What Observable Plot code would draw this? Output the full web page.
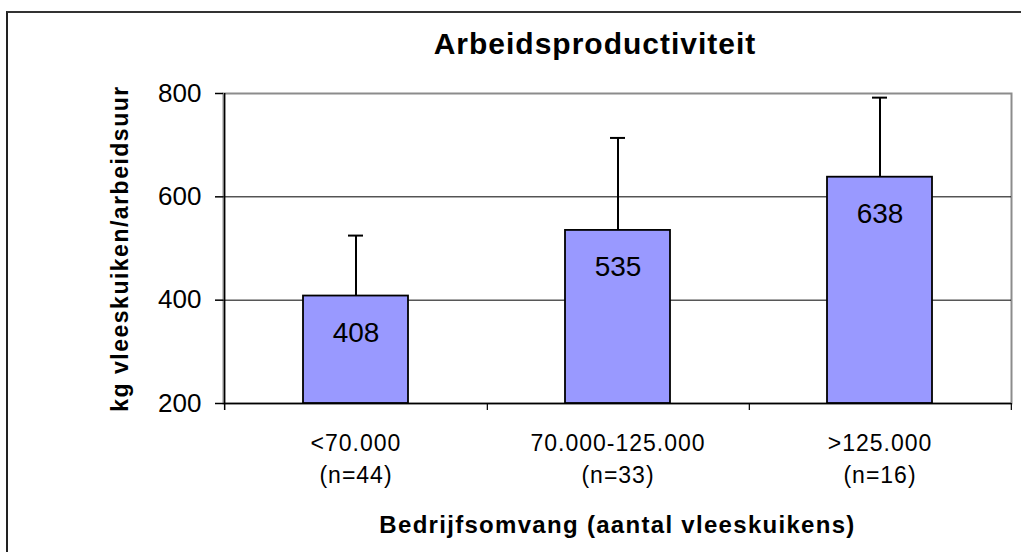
<!DOCTYPE html>
<html>
<head>
<meta charset="utf-8">
<script src="https://cdn.jsdelivr.net/npm/d3@7"></script>
<script src="https://cdn.jsdelivr.net/npm/@observablehq/plot@0.6"></script>
<style>
  html, body { margin: 0; padding: 0; background: #fff; }
  #wrap { position: relative; width: 1021px; height: 552px; overflow: hidden; font-family: "Liberation Sans", Arial, sans-serif; }
  #border { position: absolute; left: 6px; top: 11px; width: 1100px; height: 600px; border-left: 2px solid #222; border-top: 2px solid #333; }
  #title { position: absolute; left: 595px; top: 29px; transform: translateX(-50%); font-size: 30px; line-height: 30px; font-weight: bold; letter-spacing: 1px; white-space: nowrap; color: #000; }
  #chart { position: absolute; left: 0; top: 0; }
  g[aria-label="x-axis tick label"] text { letter-spacing: 1px; }
  .ytitle text { letter-spacing: 1.5px; }
  .xtitle text { letter-spacing: 1.3px; }
</style>
</head>
<body>
<div id="wrap">
  <div id="border"></div>
  <div id="title">Arbeidsproductiviteit</div>
  <div id="chart"></div>
</div>
<script>
// ---- data ----
const sizeClasses = ["<70.000", "70.000-125.000", ">125.000"];
const counts = [44, 33, 16];
const means = [408, 535, 638];
const errors = [117, 179, 154];
const yTicks = [200, 400, 600, 800];
const gridValues = [400, 600];

const data = sizeClasses.map((c, i) => ({cat: c, n: counts[i], mean: means[i], err: errors[i]}));

const W = 1021, H = 552;
const mL = 223, mR = 10, mT = 93, mB = 149;
const step = (W - mL - mR) / sizeClasses.length;
const font = "'Liberation Sans', Arial, sans-serif";

const chart = Plot.plot({
  width: W,
  height: H,
  marginLeft: mL,
  marginRight: mR,
  marginTop: mT,
  marginBottom: mB,
  style: {fontFamily: font, background: "transparent", color: "#000", overflow: "visible"},
  x: {domain: sizeClasses, paddingInner: 0.6, paddingOuter: 0.3},
  y: {domain: [200, 800]},
  marks: [
    Plot.frame({stroke: "#8c8c8c", strokeWidth: 2}),
    Plot.ruleY(gridValues, {stroke: "#000", strokeWidth: 1}),
    Plot.ruleY([200], {stroke: "#000", strokeWidth: 1.5}),
    // left axis line (category boundary of first band)
    Plot.ruleX([sizeClasses[0]], {dx: -step / 2, insetBottom: -7, stroke: "#000", strokeWidth: 1.5}),
    // boundary ticks between / after categories
    Plot.ruleX(sizeClasses, {dx: step / 2, insetTop: (H - mT - mB), insetBottom: -7, stroke: "#000", strokeWidth: 1.2}),
    // error bars
    Plot.ruleX(data, {x: "cat", y1: "mean", y2: d => d.mean + d.err, stroke: "#000", strokeWidth: 2}),
    Plot.tickY(data, {x: "cat", y: d => d.mean + d.err, insetLeft: 45, insetRight: 45, stroke: "#000", strokeWidth: 2}),
    // bars
    Plot.barY(data, {x: "cat", y1: 200, y2: "mean", fill: "#9999ff", stroke: "#000", strokeWidth: 1.8}),
    Plot.text(data, {x: "cat", y: "mean", text: d => String(d.mean), dy: 37, fontSize: 28, fill: "#000"}),
    Plot.axisY({ticks: yTicks, tickSize: 8, tickPadding: 14, fontSize: 26, label: null, stroke: "#000", strokeWidth: 1.5}),
    Plot.axisX({tickSize: 0, tickPadding: 24, fontSize: 23, lineHeight: 1.42, label: null,
      tickFormat: (d) => `${d}\n(n=${counts[sizeClasses.indexOf(d)]})`}),
    Plot.text(["kg vleeskuiken/arbeidsuur"], {frameAnchor: "left", textAnchor: "middle", dx: -103, rotate: -90, fontSize: 23, fontWeight: "bold", fill: "#000", className: "ytitle"}),
    Plot.text(["Bedrijfsomvang (aantal vleeskuikens)"], {frameAnchor: "bottom", dy: 129, fontSize: 24, fontWeight: "bold", fill: "#000", className: "xtitle"})
  ]
});
document.getElementById("chart").appendChild(chart);
</script>
</body>
</html>
